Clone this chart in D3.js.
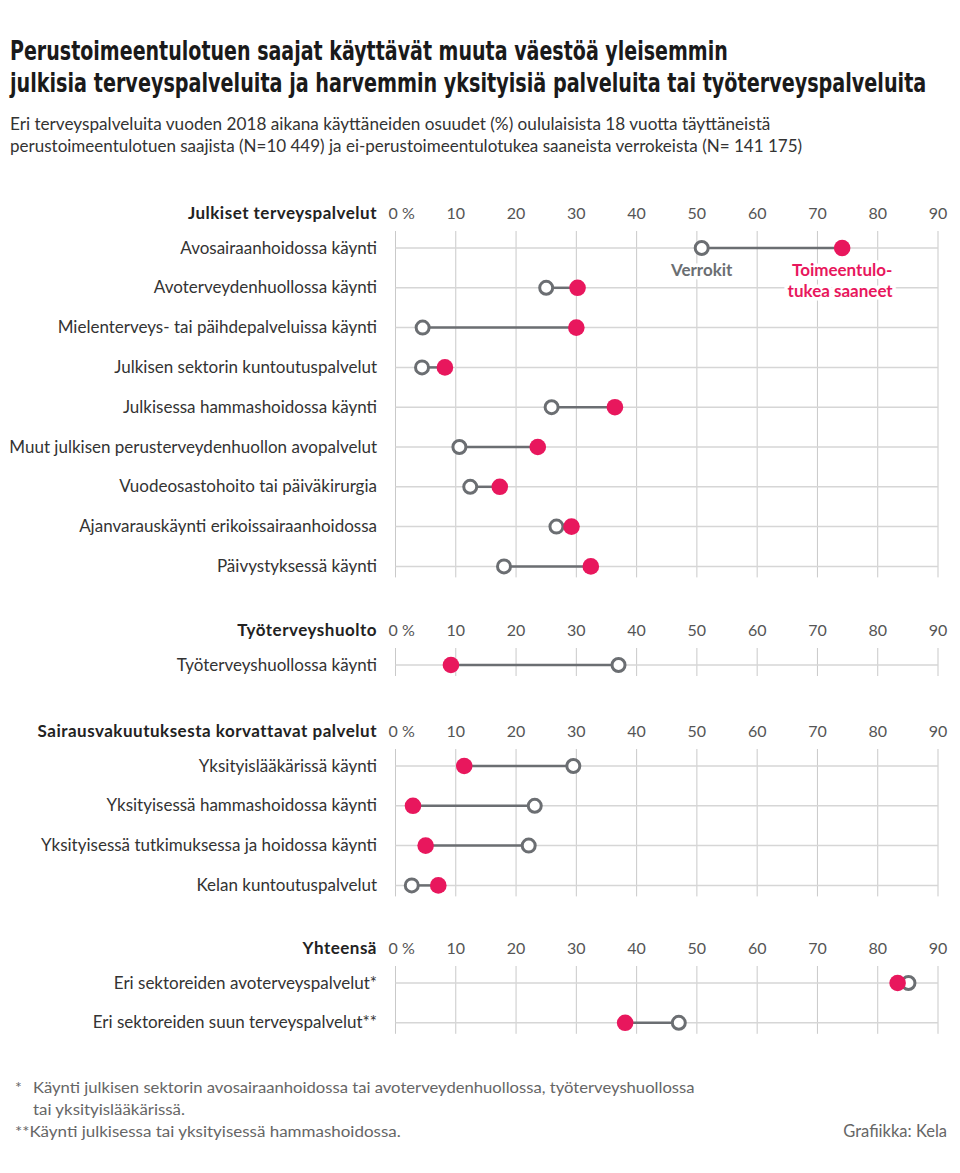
<!DOCTYPE html>
<html>
<head>
<meta charset="utf-8">
<script src="https://cdn.jsdelivr.net/npm/d3@7"></script>
<style>
  body { margin: 0; background: #fff; }
  svg { display: block; font-family: Lato, "Open Sans", sans-serif; }
</style>
</head>
<body>
<svg id="chart" width="960" height="1173"></svg>
<script>
const width = 960, height = 1173;
const svg = d3.select("#chart");

// Texts
const titleLines = [
  "Perustoimeentulotuen saajat käyttävät muuta väestöä yleisemmin",
  "julkisia terveyspalveluita ja harvemmin yksityisiä palveluita tai työterveyspalveluita"
];
const subtitleLines = [
  "Eri terveyspalveluita vuoden 2018 aikana käyttäneiden osuudet (%) oululaisista 18 vuotta täyttäneistä",
  "perustoimeentulotuen saajista (N=10 449) ja ei-perustoimeentulotukea saaneista verrokeista (N= 141 175)"
];

// Data: share (%) of each group that used the service
const publicServices = [
  "Avosairaanhoidossa käynti",
  "Avoterveydenhuollossa käynti",
  "Mielenterveys- tai päihdepalveluissa käynti",
  "Julkisen sektorin kuntoutuspalvelut",
  "Julkisessa hammashoidossa käynti",
  "Muut julkisen perusterveydenhuollon avopalvelut",
  "Vuodeosastohoito tai päiväkirurgia",
  "Ajanvarauskäynti erikoissairaanhoidossa",
  "Päivystyksessä käynti"
];
const publicVerrokit    = [50.8, 25.0, 4.5, 4.4, 25.9, 10.6, 12.4, 26.7, 18.0];
const publicToimeentulo = [74.1, 30.2, 30.0, 8.2, 36.4, 23.6, 17.3, 29.2, 32.4];

const occupationalServices = ["Työterveyshuollossa käynti"];
const occupationalVerrokit    = [37.0];
const occupationalToimeentulo = [9.2];

const insuranceServices = [
  "Yksityislääkärissä käynti",
  "Yksityisessä hammashoidossa käynti",
  "Yksityisessä tutkimuksessa ja hoidossa käynti",
  "Kelan kuntoutuspalvelut"
];
const insuranceVerrokit    = [29.5, 23.1, 22.1, 2.7];
const insuranceToimeentulo = [11.4, 2.9, 5.0, 7.1];

const totalServices = [
  "Eri sektoreiden avoterveyspalvelut*",
  "Eri sektoreiden suun terveyspalvelut**"
];
const totalVerrokit    = [85.1, 47.0];
const totalToimeentulo = [83.3, 38.1];

const groupNames = ["Julkiset terveyspalvelut", "Työterveyshuolto",
                    "Sairausvakuutuksesta korvattavat palvelut", "Yhteensä"];
const tickValues = [0, 10, 20, 30, 40, 50, 60, 70, 80, 90];

const footnotes = [
  "Käynti julkisen sektorin avosairaanhoidossa tai avoterveydenhuollossa, työterveyshuollossa",
  "tai yksityislääkärissä.",
  "**Käynti julkisessa tai yksityisessä hammashoidossa."
];

// Colours
const pink = "#e8175d";
const grey = "#6b6e72";

// Panels: data + where each one starts vertically
const panels = [
  {name: groupNames[0], cats: publicServices, ver: publicVerrokit, toi: publicToimeentulo, top: 248},
  {name: groupNames[1], cats: occupationalServices, ver: occupationalVerrokit, toi: occupationalToimeentulo, top: 665},
  {name: groupNames[2], cats: insuranceServices, ver: insuranceVerrokit, toi: insuranceToimeentulo, top: 766},
  {name: groupNames[3], cats: totalServices, ver: totalVerrokit, toi: totalToimeentulo, top: 983}
];
const rowStep = 39.8;
const labelRight = 377;

const x = d3.scaleLinear().domain([0, 90]).range([395.5, 938]);

// squeeze a left-anchored text horizontally to the wanted width
function condense(sel, target) {
  sel.each(function() {
    const t = d3.select(this);
    const len = this.getComputedTextLength();
    const x0 = +t.attr("x");
    if (len > 0) t.attr("transform", `translate(${x0},0) scale(${target / len},1) translate(${-x0},0)`);
  });
}

// Title
svg.append("g").selectAll("text").data(titleLines).join("text")
  .attr("x", 10).attr("y", (d, i) => 60 + i * 32)
  .attr("font-family", "'Liberation Sans Narrow', 'DejaVu Sans Condensed', sans-serif")
  .attr("font-weight", 700).attr("font-size", 26).attr("fill", "#1a1a1a")
  .text(d => d)
  .each(function(d, i) { condense(d3.select(this), [718, 917][i]); });

// Subtitle
svg.append("g").selectAll("text").data(subtitleLines).join("text")
  .attr("x", 10).attr("y", (d, i) => 130 + i * 22)
  .attr("font-size", 17).attr("fill", "#333")
  .text(d => d)
  .each(function(d, i) { condense(d3.select(this), [761, 793][i]); });

// Panels
panels.forEach(p => {
  const n = p.cats.length;
  const y = d3.scalePoint().domain(p.cats).range([p.top, p.top + rowStep * (n - 1)]);
  const rows = p.cats.map((c, i) => ({cat: c, ver: p.ver[i], toi: p.toi[i]}));
  const g = svg.append("g");
  const yTop = p.top - 17, yBot = p.top + rowStep * (n - 1) + 11;

  // vertical grid
  g.append("g").selectAll("line").data(tickValues).join("line")
    .attr("x1", d => x(d)).attr("x2", d => x(d))
    .attr("y1", yTop).attr("y2", yBot)
    .attr("stroke", "#c9c9c9").attr("stroke-width", 1);

  // row lines
  g.append("g").selectAll("line").data(rows).join("line")
    .attr("x1", x(0)).attr("x2", x(90))
    .attr("y1", d => y(d.cat)).attr("y2", d => y(d.cat))
    .attr("stroke", "#d6d6d6").attr("stroke-width", 1.5);

  // header + tick labels
  g.append("text")
    .attr("x", labelRight).attr("y", p.top - 29)
    .attr("text-anchor", "end").attr("font-weight", 700)
    .attr("font-size", 17).attr("letter-spacing", 0.5).attr("fill", "#222")
    .text(p.name);
  g.append("g").selectAll("text").data(tickValues).join("text")
    .attr("x", d => d === 0 ? x(0) - 7 : x(d))
    .attr("y", p.top - 29)
    .attr("text-anchor", d => d === 0 ? "start" : "middle")
    .attr("font-size", 16).attr("fill", "#555")
    .text(d => d === 0 ? "0 %" : d);

  // row labels
  g.append("g").selectAll("text").data(rows).join("text")
    .attr("x", labelRight).attr("y", d => y(d.cat) + 5.5)
    .attr("text-anchor", "end")
    .attr("font-size", 17).attr("fill", "#333")
    .text(d => d.cat);

  // connectors
  g.append("g").selectAll("line").data(rows).join("line")
    .attr("x1", d => x(d.ver)).attr("x2", d => x(d.toi))
    .attr("y1", d => y(d.cat)).attr("y2", d => y(d.cat))
    .attr("stroke", grey).attr("stroke-width", 2.5);

  // verrokit (open) then toimeentulotuki (filled)
  g.append("g").selectAll("circle").data(rows).join("circle")
    .attr("cx", d => x(d.ver)).attr("cy", d => y(d.cat)).attr("r", 6.5)
    .attr("fill", "#fff").attr("stroke", grey).attr("stroke-width", 3);
  g.append("g").selectAll("circle").data(rows).join("circle")
    .attr("cx", d => x(d.toi)).attr("cy", d => y(d.cat)).attr("r", 8.3)
    .attr("fill", pink);
});

// Legend annotations on the first row
const first = panels[0];
const ann = svg.append("g")
  .attr("font-weight", 700).attr("font-size", 17)
  .attr("text-anchor", "middle")
  .attr("stroke", "#fff").attr("stroke-width", 7)
  .attr("stroke-linejoin", "round").attr("paint-order", "stroke");
ann.append("text")
  .attr("x", x(first.ver[0])).attr("y", first.top + 28)
  .attr("fill", grey).text("Verrokit");
ann.append("text")
  .attr("x", x(first.toi[0])).attr("y", first.top + 28)
  .attr("fill", pink).text("Toimeentulo-");
ann.append("text")
  .attr("x", x(first.toi[0]) - 2).attr("y", first.top + 49)
  .attr("fill", pink).text("tukea saaneet");

// Footnotes + source
const fn = svg.append("g").attr("font-size", 16).attr("fill", "#666");
fn.append("text").attr("x", 15).attr("y", 1093).text("*");
fn.append("text").attr("x", 33).attr("y", 1093).text(footnotes[0])
  .call(condense, 662);
fn.append("text").attr("x", 33).attr("y", 1115).text(footnotes[1])
  .call(condense, 152);
fn.append("text").attr("x", 15).attr("y", 1137).text(footnotes[2])
  .call(condense, 386);
fn.append("text").attr("x", 947).attr("y", 1137).attr("text-anchor", "end")
  .attr("font-size", 16.5).text("Grafiikka: Kela");
</script>
</body>
</html>
